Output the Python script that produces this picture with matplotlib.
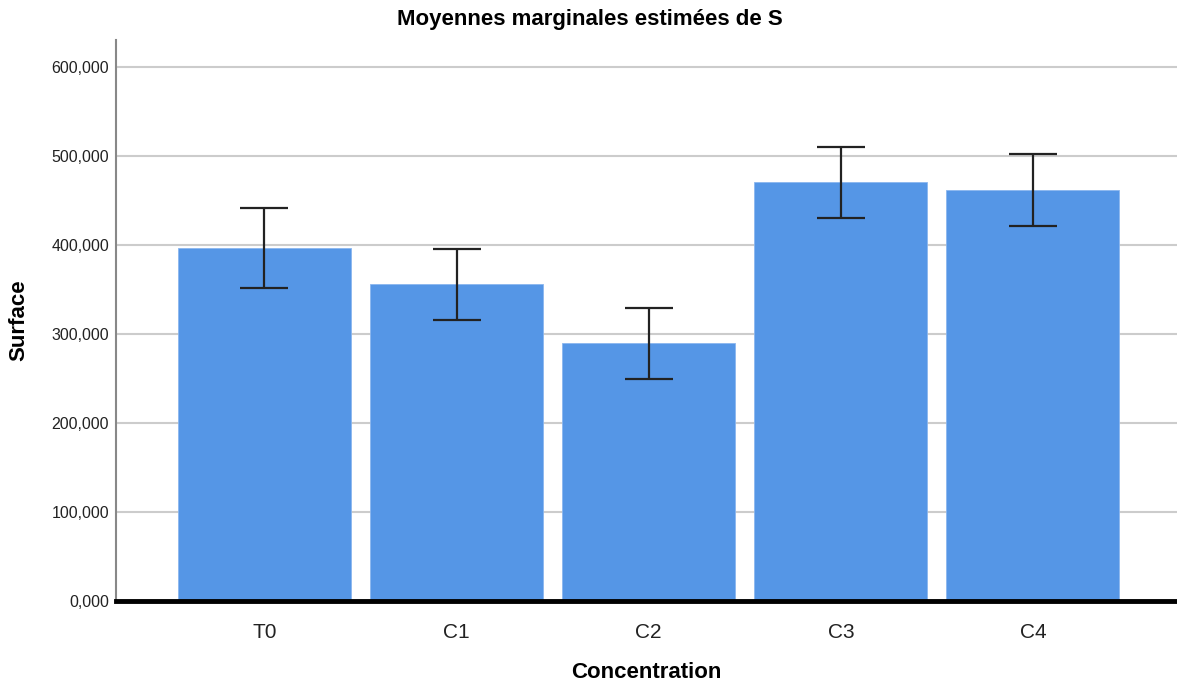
import matplotlib
matplotlib.use("Agg")
import matplotlib.pyplot as plt
import numpy as np

plt.rcParams['font.family'] = ['Liberation Sans', 'DejaVu Sans']

categories = ['T0', 'C1', 'C2', 'C3', 'C4']
means = [396600, 355500, 289800, 470000, 461800]
err_low = [351800, 315700, 249400, 430300, 420600]
err_high = [441600, 395500, 329200, 510100, 502300]
ytick_vals = [0, 100000, 200000, 300000, 400000, 500000, 600000]
ytick_labels = ['0,000', '100,000', '200,000', '300,000', '400,000', '500,000', '600,000']

yerr = np.array([np.subtract(means, err_low), np.subtract(err_high, means)])

fig = plt.figure(figsize=(11.77, 6.81), dpi=100)
ax = fig.add_axes([116/1177, 80/681, 1 - 116/1177, 561/681])

x = np.arange(len(categories))
ax.bar(x, means, width=0.9, color='#5596e6', edgecolor='#8ab6ef', linewidth=0.6, zorder=2)
ax.errorbar(x, means, yerr=yerr, fmt='none', ecolor='#222222', elinewidth=1.6,
            capsize=17, capthick=1.6, zorder=3)

ax.set_xlim(-0.773, 4.75)
ax.set_ylim(0, 630000)
ax.set_yticks(ytick_vals)
ax.set_yticklabels(ytick_labels)
ax.set_xticks(x)
ax.set_xticklabels(categories, fontsize=15, color='#222222')
ax.tick_params(axis='y', labelsize=11.5, length=0, pad=5, colors='#222222')
ax.tick_params(axis='x', length=0, pad=16)

ax.grid(axis='y', color='#cccccc', linewidth=1.5, zorder=0)
ax.set_axisbelow(True)
for s in ['top', 'right']:
    ax.spines[s].set_visible(False)
ax.spines['left'].set_color('#888888')
ax.spines['left'].set_linewidth(1.5)
ax.spines['bottom'].set_color('black')
ax.spines['bottom'].set_linewidth(3.5)
ax.spines['bottom'].set_zorder(4)

ax.set_xlabel('Concentration', fontsize=16, fontweight='bold', labelpad=14)
ax.set_ylabel('Surface', fontsize=16, fontweight='bold', labelpad=16)
fig.text(590/1177, 1 - 20/681, 'Moyennes marginales estimées de S', fontsize=16,
         fontweight='bold', ha='center', va='center')

fig.savefig('out.png', dpi=100)
